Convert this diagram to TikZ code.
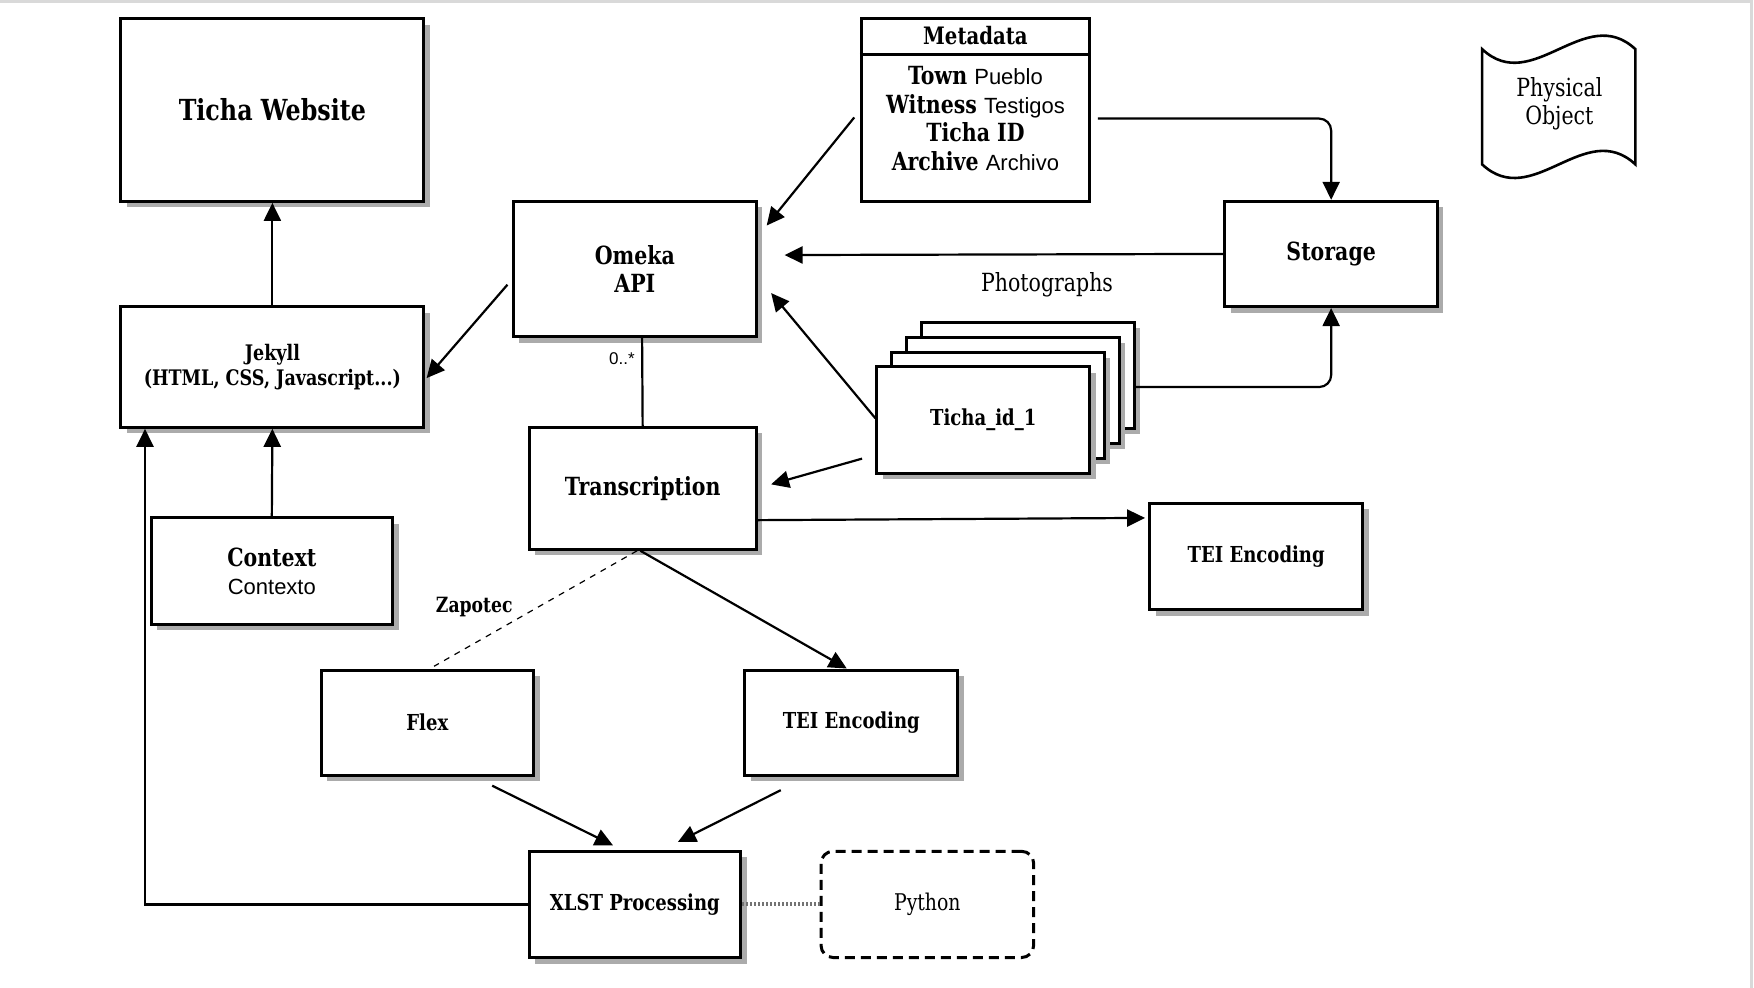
\documentclass[tikz,border=0pt]{standalone}
\usepackage{fontspec}
\setmainfont{DejaVu Serif}[FakeStretch=0.82]
\newfontfamily\rsans{Liberation Sans}
\usetikzlibrary{arrows.meta,shadows,calc}

\tikzset{
  procbox/.style={draw, fill=white, line width=1.5pt, inner sep=2pt, align=center,
    drop shadow={shadow xshift=3pt,shadow yshift=-3pt,fill=black!33,opacity=1}},
  flow/.style={line width=1.1pt,-{Triangle[length=9pt,width=8.5pt]}},
  bigtxt/.style={font=\fontsize{14.5}{17}\selectfont\bfseries},
  midtxt/.style={font=\fontsize{12.5}{14}\selectfont\bfseries},
  smalltxt/.style={font=\fontsize{11}{13}\selectfont\bfseries},
  lighttxt/.style={font=\fontsize{12.5}{14}\selectfont}
}

\begin{document}
\begin{tikzpicture}[x=0.5593pt,y=-0.5593pt]
\useasboundingbox (0,0) rectangle (1568,883);
\draw[black!15, line width=1.7pt] (0,1.5) -- (1566,1.5) -- (1566,883);

% boxes
\node[procbox, bigtxt, minimum width=151.6pt, minimum height=91.2pt] (web) at (243.5,98.5) {Ticha Website};
\node[procbox, font=\fontsize{10.7}{12.3}\selectfont\bfseries, minimum width=151.6pt, minimum height=60.4pt] (jek) at (243.5,328) {Jekyll\\(HTML, CSS, Javascript...)};
\node[procbox, midtxt, minimum width=120.8pt, minimum height=53.1pt] (ctx) at (243,510.5) {Context\\{\rsans\mdseries\fontsize{11}{14}\selectfont Contexto}};
\node[procbox, midtxt, minimum width=121.4pt, minimum height=67.7pt] (omeka) at (567.5,240.5) {Omeka\\API};
\node[procbox, midtxt, minimum width=106.3pt, minimum height=52.6pt] (storage) at (1190,227) {Storage};
\node[procbox, midtxt, minimum width=113.5pt, minimum height=61pt] (trans) at (574.5,436.5) {Transcription};
\node[procbox, smalltxt, minimum width=106.3pt, minimum height=53.1pt] (tei1) at (1123,497.5) {TEI Encoding};
\node[procbox, smalltxt, minimum width=106.3pt, minimum height=52.6pt] (flex) at (382,646) {Flex};
\node[procbox, smalltxt, minimum width=106.3pt, minimum height=52.6pt] (tei2) at (761,646) {TEI Encoding};
\node[procbox, smalltxt, minimum width=105.7pt, minimum height=53.1pt] (xlst) at (567.5,808.5) {XLST Processing};
\node[draw, dashed, dash pattern=on 5pt off 3pt, rounded corners=6pt, line width=1.5pt,
  minimum width=106.3pt, minimum height=53.1pt, font=\fontsize{11.5}{14}\selectfont] (python) at (829,808.5) {Python};

% metadata
\node[draw, line width=1.5pt, minimum width=114.1pt, minimum height=91.2pt] (meta) at (872,98.5) {};
\draw[line width=1.5pt] ($(meta.north west)+(0,33)$) -- ($(meta.north east)+(0,33)$);
\node[font=\fontsize{12}{14}\selectfont\bfseries] (metah) at (872,32) {Metadata};
\node[align=center, font=\fontsize{12.5}{14.2}\selectfont\bfseries] (metaf) at (872,106)
  {Town {\rsans\mdseries\fontsize{11}{14}\selectfont Pueblo}\\
   Witness {\rsans\mdseries\fontsize{11}{14}\selectfont Testigos}\\
   Ticha ID\\
   Archive {\rsans\mdseries\fontsize{11}{14}\selectfont Archivo}};

% photographs
\node[procbox, minimum width=106.3pt, minimum height=53.1pt] (ph4) at (919,335.5) {};
\node[procbox, minimum width=106.3pt, minimum height=53.1pt] (ph3) at (905.7,348.8) {};
\node[procbox, minimum width=106.3pt, minimum height=53.1pt] (ph2) at (892.3,362.2) {};
\node[procbox, smalltxt, minimum width=106.3pt, minimum height=53.1pt] (ph1) at (879,375.5) {Ticha\_id\_1};
\node[lighttxt] (photolbl) at (936,255) {Photographs};

% physical object
\draw[line width=1.3pt] (1325,44) .. controls (1370,86) and (1417,2) .. (1462,44)
  -- (1462,147) .. controls (1417,105) and (1370,189) .. (1325,147) -- cycle;
\node[lighttxt, align=center] (phys) at (1394,93) {Physical\\Object};

% labels
\node[font=\rsans\fontsize{8.5}{10}\selectfont] (mult) at (556,321) {0..*};
\node[font=\fontsize{10.5}{12}\selectfont\bfseries] (zap) at (424,543) {Zapotec};

% connectors
\draw[flow] (jek.north) -- (web.south);
\draw[flow] (ctx.north) -- (jek.south);
\draw[flow] (xlst.west) -| ($(jek.south west)+(23,0)$);
\draw[flow] ($(omeka.west)+(-4,14)$) -- ($(jek.east)+(1,10)$);
\draw[flow] ($(meta.west)+(-5,6.5)$) -- ($(omeka.north east)+(8,23)$);
\draw[flow] (storage.west) -- ($(omeka.east)+(24,-12.5)$);
\draw[flow, rounded corners=6pt] ($(meta.east)+(6,7.5)$) -| (storage.north);
\draw[flow, rounded corners=6pt] ($(ph4.east)+(0,10.5)$) -| (storage.south);
\draw[flow] ($(ph1.west)+(0,-1.5)$) -- ($(omeka.east)+(12,21.5)$);
\draw[flow] ($(ph1.west)+(-12,34.5)$) -- ($(trans.east)+(12,-3.5)$);
\draw[line width=1.1pt] ($(omeka.south)+(6.5,0)$) -- (trans.north);
\draw[flow] ($(trans.east)+(0,28.5)$) -- ($(tei1.west)+(-3,-34.5)$);
\draw[flow] ($(trans.south)+(-2,0)$) -- ($(tei2.north)+(-4,0)$);
\draw[dashed, line width=0.6pt] ($(trans.south)+(-5,0)$) -- ($(flex.north)+(6,-2)$);
\draw[flow] ($(flex.south)+(58,8)$) -- ($(xlst.north)+(-19.5,-4)$);
\draw[flow] ($(tei2.south)+(-63,12)$) -- ($(xlst.north)+(38.5,-7)$);
\draw[black!55, line width=2pt, dash pattern=on 1pt off 1pt] (xlst.east) -- (python.west);

\end{tikzpicture}
\end{document}
